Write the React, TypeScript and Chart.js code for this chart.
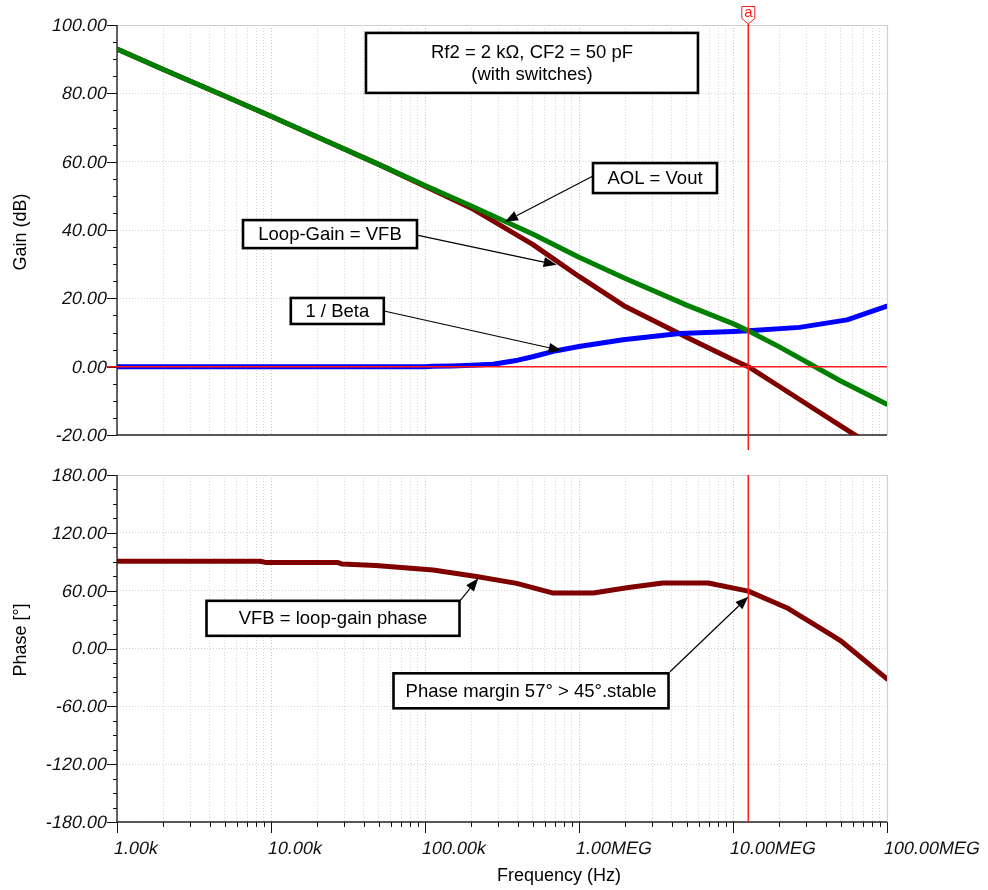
import React, { useEffect, useRef } from "react";
import { Chart, registerables } from "chart.js";

Chart.register(...registerables);

// ---------------- data ----------------
const aolFreqHz = [1e3, 2e3, 5e3, 1e4, 2e4, 5e4, 1e5, 2e5, 5e5, 1e6, 2e6, 5e6, 1e7, 1.257e7, 2e7, 5e7, 1e8];
const aolDb = [93.0, 87.0, 79.2, 73.3, 67.2, 59.2, 53.0, 47.0, 38.8, 32.0, 25.8, 18.0, 12.6, 10.5, 5.8, -4.2, -11.0];

const loopFreqHz = [1e3, 2e3, 5e3, 1e4, 2e4, 5e4, 1e5, 2e5, 5e5, 1e6, 2e6, 5e6, 1e7, 1.257e7, 2e7, 5e7, 6.4e7];
const loopGainDb = [93.0, 87.0, 79.2, 73.3, 67.2, 59.2, 52.8, 46.4, 35.8, 26.4, 17.6, 8.6, 2.0, 0.0, -5.8, -17.3, -20.4];

const betaFreqHz = [1e3, 1e4, 1e5, 1.13e5, 1.5e5, 2e5, 2.77e5, 4e5, 5e5, 7e5, 1e6, 1.93e6, 4.5e6, 1e7, 1.257e7, 2.7e7, 5.5e7, 1e8];
const invBetaDb = [0, 0, 0, 0.1, 0.2, 0.4, 0.7, 1.9, 2.9, 4.6, 5.9, 7.9, 9.7, 10.3, 10.5, 11.5, 13.7, 17.7];

const phaseFreqHz = [1e3, 8.5e3, 9.2e3, 2.7e4, 2.9e4, 4.8e4, 7e4, 1.13e5, 2.16e5, 3.94e5, 6.8e5, 1.24e6, 2.04e6, 3.5e6, 6.9e6, 1.257e7, 2.23e7, 4.48e7, 5e7, 1e8];
const phaseDeg = [90.5, 90.5, 89.3, 89.3, 87.6, 86.0, 84.0, 81.5, 74.6, 67.6, 57.5, 57.5, 63.0, 68.0, 68.0, 59.5, 42.3, 12.8, 8.0, -31.5];

const xTickValues = [1e3, 1e4, 1e5, 1e6, 1e7, 1e8];
const xTickLabels = ["1.00k", "10.00k", "100.00k", "1.00MEG", "10.00MEG", "100.00MEG"];
const gainTickValues = [-20, 0, 20, 40, 60, 80, 100];
const gainTickLabels = ["-20.00", "0.00", "20.00", "40.00", "60.00", "80.00", "100.00"];
const phaseTickValues = [-180, -120, -60, 0, 60, 120, 180];
const phaseTickLabels = ["-180.00", "-120.00", "-60.00", "0.00", "60.00", "120.00", "180.00"];

const cursorFreqHz = 1.257e7;

// annotation boxes (anchors in data space: frequency / value)
const gainNotes = [
  { lines: ["Rf2 = 2 kΩ, CF2 = 50 pF", "(with switches)"], at: [4.95e5, 88.9], w: 332, h: 60 },
  { lines: ["AOL = Vout"], at: [3.115e6, 55.2], w: 124, h: 30, tail: [1.233e6, 55.8], tip: [3.307e5, 42.4] },
  { lines: ["Loop-Gain = VFB"], at: [2.416e4, 38.8], w: 174, h: 28, tail: [8.87e4, 38.5], tip: [7.16e5, 29.8] },
  { lines: ["1 / Beta"], at: [2.695e4, 16.3], w: 93, h: 26, tail: [5.42e4, 16.3], tip: [7.72e5, 4.7] },
];
const phaseNotes = [
  { lines: ["VFB = loop-gain phase"], at: [2.527e4, 31.3], w: 253, h: 35, tail: [1.67e5, 48.6], tip: [2.219e5, 72.8] },
  { lines: ["Phase margin 57° > 45°.stable"], at: [4.879e5, -43.9], w: 275, h: 35, tail: [3.898e6, -24.1], tip: [1.257e7, 53.7] },
];

// ---------------- helpers ----------------
const FONT = '"Liberation Sans", Arial, Helvetica, sans-serif';
const W = 988;
const H = 890;
const SLANT = 0.2;

const zip = (xs: number[], ys: number[]) => xs.map((x, i) => ({ x, y: ys[i] }));

const xGridValues: number[] = [];
for (let e = 3; e < 8; e++) for (let m = 1; m <= 9; m++) xGridValues.push(m * Math.pow(10, e));
xGridValues.push(1e8);

function slantText(ctx: CanvasRenderingContext2D, text: string, x: number, y: number) {
  ctx.save();
  ctx.translate(x, y);
  ctx.transform(1, 0, -SLANT, 1, 0, 0);
  ctx.fillText(text, 0, 0);
  ctx.restore();
}

function drawArrow(ctx: CanvasRenderingContext2D, x1: number, y1: number, x2: number, y2: number) {
  const ang = Math.atan2(y2 - y1, x2 - x1);
  const L = 13;
  const Wd = 5;
  const bx = x2 - L * Math.cos(ang);
  const by = y2 - L * Math.sin(ang);
  ctx.save();
  ctx.strokeStyle = "#000";
  ctx.fillStyle = "#000";
  ctx.lineWidth = 1.2;
  ctx.beginPath();
  ctx.moveTo(x1, y1);
  ctx.lineTo(bx, by);
  ctx.stroke();
  ctx.beginPath();
  ctx.moveTo(x2, y2);
  ctx.lineTo(bx + Wd * Math.sin(ang), by - Wd * Math.cos(ang));
  ctx.lineTo(bx - Wd * Math.sin(ang), by + Wd * Math.cos(ang));
  ctx.closePath();
  ctx.fill();
  ctx.restore();
}

function drawBox(ctx: CanvasRenderingContext2D, cx: number, cy: number, w: number, h: number, lines: string[]) {
  ctx.save();
  ctx.fillStyle = "#fff";
  ctx.fillRect(cx - w / 2, cy - h / 2, w, h);
  ctx.lineWidth = 2.6;
  ctx.strokeStyle = "#000";
  ctx.strokeRect(cx - w / 2, cy - h / 2, w, h);
  ctx.fillStyle = "#000";
  ctx.font = `18.5px ${FONT}`;
  ctx.textAlign = "center";
  ctx.textBaseline = "middle";
  const lh = 22;
  lines.forEach((t, i) => ctx.fillText(t, cx, cy + (i - (lines.length - 1) / 2) * lh + 1));
  ctx.restore();
}

function makePlugin(panel: "gain" | "phase") {
  const tickVals = panel === "gain" ? gainTickValues : phaseTickValues;
  const tickLabs = panel === "gain" ? gainTickLabels : phaseTickLabels;
  const minorStep = panel === "gain" ? 5 : 15;
  const notes = panel === "gain" ? gainNotes : phaseNotes;
  return {
    id: "bode-" + panel,
    beforeDatasetsDraw(chart: any) {
      const ctx: CanvasRenderingContext2D = chart.ctx;
      const { left, right, top, bottom } = chart.chartArea;
      const xs = chart.scales.x;
      const ys = chart.scales.y;
      ctx.save();
      // light frame top/right
      ctx.strokeStyle = "#cfcfcf";
      ctx.lineWidth = 1.2;
      ctx.beginPath();
      ctx.moveTo(left, top + 0.5);
      ctx.lineTo(right + 0.5, top + 0.5);
      ctx.lineTo(right + 0.5, bottom);
      ctx.stroke();
      // left axis
      ctx.strokeStyle = "#111";
      ctx.lineWidth = 1.3;
      ctx.beginPath();
      ctx.moveTo(left, top);
      ctx.lineTo(left, bottom);
      ctx.stroke();
      // bottom axis
      ctx.strokeStyle = "#222";
      ctx.lineWidth = 1.5;
      ctx.beginPath();
      ctx.moveTo(left, bottom);
      ctx.lineTo(right, bottom);
      ctx.stroke();
      // y ticks
      ctx.lineWidth = 1;
      ctx.strokeStyle = "#111";
      const ymin = ys.min;
      const ymax = ys.max;
      for (let v = ymin; v <= ymax + 1e-9; v += minorStep) {
        const y = Math.round(ys.getPixelForValue(v)) + 0.5;
        const major = tickVals.includes(v);
        ctx.beginPath();
        ctx.moveTo(left - (major ? 10 : 4), y);
        ctx.lineTo(left, y);
        ctx.stroke();
      }
      // y labels (oblique)
      ctx.fillStyle = "#111";
      ctx.font = `18px ${FONT}`;
      ctx.textAlign = "right";
      ctx.textBaseline = "middle";
      tickVals.forEach((v, i) => slantText(ctx, tickLabs[i], left - 10, ys.getPixelForValue(v) + 1));
      // x ticks + labels on the bottom panel only
      if (panel === "phase") {
        ctx.strokeStyle = "#111";
        ctx.lineWidth = 1;
        xGridValues.forEach((v) => {
          const x = Math.round(xs.getPixelForValue(v)) + 0.5;
          const major = xTickValues.includes(v);
          ctx.beginPath();
          ctx.moveTo(x, bottom);
          ctx.lineTo(x, bottom + (major ? 11 : 5));
          ctx.stroke();
        });
        ctx.textAlign = "left";
        ctx.textBaseline = "middle";
        xTickValues.forEach((v, i) => slantText(ctx, xTickLabels[i], xs.getPixelForValue(v) - 3, bottom + 27));
        ctx.fillStyle = "#000";
        ctx.font = `18px ${FONT}`;
        ctx.textAlign = "center";
        ctx.textBaseline = "middle";
        ctx.fillText("Frequency (Hz)", 559, bottom + 54);
      }
      // y axis title
      ctx.save();
      ctx.fillStyle = "#000";
      ctx.font = `18px ${FONT}`;
      ctx.textAlign = "center";
      ctx.textBaseline = "middle";
      ctx.translate(21, panel === "gain" ? 232 : 640);
      ctx.rotate(-Math.PI / 2);
      ctx.fillText(panel === "gain" ? "Gain (dB)" : "Phase [°]", 0, 0);
      ctx.restore();
      ctx.restore();
    },
    afterDatasetsDraw(chart: any) {
      const ctx: CanvasRenderingContext2D = chart.ctx;
      const { left, right, top, bottom } = chart.chartArea;
      const xs = chart.scales.x;
      const ys = chart.scales.y;
      const xc = xs.getPixelForValue(cursorFreqHz);
      ctx.save();
      ctx.strokeStyle = "#ff1a1a";
      ctx.lineWidth = 1.5;
      if (panel === "gain") {
        const y0 = ys.getPixelForValue(0);
        ctx.beginPath();
        ctx.moveTo(left - 10, y0);
        ctx.lineTo(right, y0);
        ctx.stroke();
        ctx.beginPath();
        ctx.moveTo(xc, top - 1);
        ctx.lineTo(xc, bottom + 15);
        ctx.stroke();
        // cursor flag
        ctx.lineWidth = 1;
        ctx.fillStyle = "#fff";
        ctx.beginPath();
        ctx.moveTo(xc - 6.5, 6.5);
        ctx.lineTo(xc + 6.5, 6.5);
        ctx.lineTo(xc + 6.5, 18.5);
        ctx.lineTo(xc, top - 1);
        ctx.lineTo(xc - 6.5, 18.5);
        ctx.closePath();
        ctx.fill();
        ctx.stroke();
        ctx.fillStyle = "#ff1a1a";
        ctx.font = `15px ${FONT}`;
        ctx.textAlign = "center";
        ctx.textBaseline = "middle";
        ctx.fillText("a", xc, 13);
      } else {
        ctx.beginPath();
        ctx.moveTo(xc, top);
        ctx.lineTo(xc, bottom);
        ctx.stroke();
      }
      ctx.restore();
      notes.forEach((n: any) => {
        if (n.tail && n.tip) {
          drawArrow(ctx, xs.getPixelForValue(n.tail[0]), ys.getPixelForValue(n.tail[1]), xs.getPixelForValue(n.tip[0]), ys.getPixelForValue(n.tip[1]));
        }
      });
      notes.forEach((n: any) => {
        drawBox(ctx, xs.getPixelForValue(n.at[0]), ys.getPixelForValue(n.at[1]), n.w, n.h, n.lines);
      });
    },
  };
}

function lineDs(data: { x: number; y: number }[], color: string) {
  return {
    data,
    borderColor: color,
    backgroundColor: color,
    borderWidth: 5,
    pointRadius: 0,
    tension: 0,
    fill: false,
    borderCapStyle: "round" as const,
    borderJoinStyle: "round" as const,
  };
}

function makeConfig(panel: "gain" | "phase"): any {
  const datasets =
    panel === "gain"
      ? [
          lineDs(zip(aolFreqHz, aolDb), "rgb(0,128,0)"),
          lineDs(zip(betaFreqHz, invBetaDb), "rgb(0,0,255)"),
          lineDs(zip(loopFreqHz, loopGainDb), "rgb(128,0,0)"),
        ]
      : [lineDs(zip(phaseFreqHz, phaseDeg), "rgb(128,0,0)")];
  const yVals = panel === "gain" ? gainTickValues : phaseTickValues;
  return {
    type: "line",
    data: { datasets },
    options: {
      animation: false,
      responsive: false,
      devicePixelRatio: 1,
      events: [],
      layout: {
        padding:
          panel === "gain"
            ? { left: 117, right: W - 887, top: 25, bottom: H - 435 }
            : { left: 117, right: W - 887, top: 475, bottom: H - 822 },
      },
      plugins: { legend: { display: false }, tooltip: { enabled: false }, title: { display: false } },
      scales: {
        x: {
          type: "logarithmic",
          min: 1e3,
          max: 1e8,
          afterBuildTicks: (s: any) => {
            s.ticks = xGridValues.map((value) => ({ value }));
          },
          afterFit: (s: any) => {
            s.height = 0;
          },
          ticks: { display: false },
          grid: {
            drawTicks: false,
            color: (c: any) => (c.tick && xTickValues.includes(c.tick.value) ? "#c4c4c4" : "#d6d6d6"),
            lineWidth: 1,
          },
          border: { display: false, dash: [1, 2] },
        },
        y: {
          type: "linear",
          min: yVals[0],
          max: yVals[yVals.length - 1],
          afterBuildTicks: (s: any) => {
            s.ticks = yVals.map((value) => ({ value }));
          },
          afterFit: (s: any) => {
            s.width = 0;
          },
          ticks: { display: false },
          grid: { drawTicks: false, color: "#d0d0d0", lineWidth: 1 },
          border: { display: false, dash: [1, 2] },
        },
      },
    },
    plugins: [makePlugin(panel)],
  };
}

export default function App() {
  const topRef = useRef<HTMLCanvasElement>(null);
  const botRef = useRef<HTMLCanvasElement>(null);
  useEffect(() => {
    const c1 = new Chart(topRef.current as HTMLCanvasElement, makeConfig("gain"));
    const c2 = new Chart(botRef.current as HTMLCanvasElement, makeConfig("phase"));
    return () => {
      c1.destroy();
      c2.destroy();
    };
  }, []);
  return (
    <div style={{ position: "absolute", left: 0, top: 0, width: W, height: H, background: "#fff", overflow: "hidden" }}>
      <canvas ref={topRef} width={W} height={H} style={{ position: "absolute", left: 0, top: 0 }} />
      <canvas ref={botRef} width={W} height={H} style={{ position: "absolute", left: 0, top: 0 }} />
    </div>
  );
}
